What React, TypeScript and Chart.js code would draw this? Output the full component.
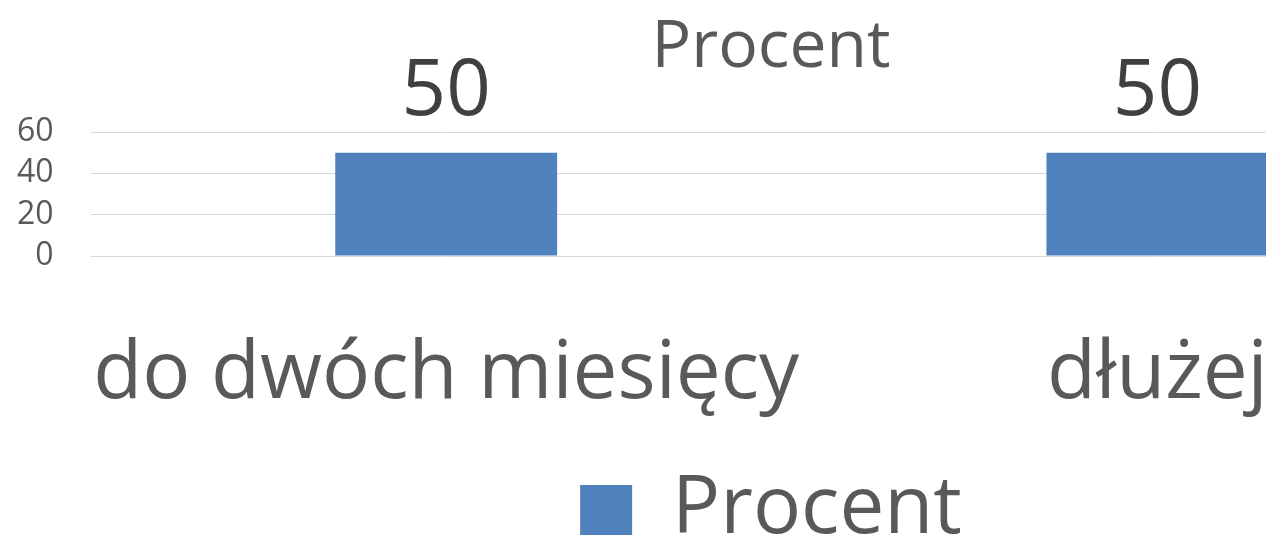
import React, { useEffect, useRef } from "react";
import { Chart, registerables } from "chart.js";

Chart.register(...registerables);

const categories = ["do dwóch miesięcy", "dłużej"];
const seriesName = "Procent";
const values = [50, 50];
const yTickValues = [0, 20, 40, 60];
const chartTitle = "Procent";

const FONT = "'Open Sans', 'Noto Sans', sans-serif";
const TEXT = "#595959";

const dataLabels = {
  id: "dataLabels",
  afterDatasetsDraw(chart: any) {
    const ctx = chart.ctx;
    ctx.save();
    ctx.font = `78px ${FONT}`;
    ctx.fillStyle = "#404040";
    ctx.textAlign = "center";
    ctx.textBaseline = "alphabetic";
    chart.data.datasets.forEach((ds: any, di: number) => {
      const meta = chart.getDatasetMeta(di);
      meta.data.forEach((el: any, i: number) => {
        ctx.fillText(String(ds.data[i]), el.x, el.y - 38);
      });
    });
    ctx.restore();
  },
};

export default function App() {
  const ref = useRef<HTMLCanvasElement | null>(null);
  useEffect(() => {
    if (!ref.current) return;
    const chart = new Chart(ref.current, {
      type: "bar",
      data: {
        labels: categories,
        datasets: [
          {
            label: seriesName,
            data: values,
            backgroundColor: "#4f81bd",
            categoryPercentage: 1,
            barPercentage: 0.312,
          },
        ],
      },
      options: {
        responsive: false,
        animation: false,
        layout: { padding: 0 },
        plugins: {
          title: {
            display: true,
            text: chartTitle,
            color: TEXT,
            font: { family: FONT, size: 66, weight: "normal" },
            padding: { top: 9, bottom: 43.8 },
          },
          legend: {
            display: true,
            position: "bottom",
            labels: {
              color: TEXT,
              font: { family: FONT, size: 80 },
              boxWidth: 52,
              boxHeight: 50,
              padding: 10,
            },
          },
          tooltip: { enabled: false },
        },
        scales: {
          x: {
            grid: { display: false, drawTicks: false },
            border: { display: false },
            ticks: {
              color: TEXT,
              font: { family: FONT, size: 80 },
              padding: 71,
              maxRotation: 0,
              autoSkip: false,
            },
            afterFit: (s: any) => {
              s.height = 204;
            },
          },
          y: {
            min: 0,
            max: 60,
            afterBuildTicks: (s: any) => {
              s.ticks = yTickValues.map((v) => ({ value: v }));
            },
            grid: { color: "#d9d9d9", drawTicks: false, lineWidth: 1 },
            border: { display: false },
            ticks: {
              color: TEXT,
              font: { family: FONT, size: 32, lineHeight: 1 },
              padding: 37,
              autoSkip: false,
            },
            afterFit: (s: any) => {
              s.width = 89;
            },
          },
          rightSpace: {
            type: "linear",
            position: "right",
            display: true,
            grid: { display: false, drawTicks: false },
            border: { display: false },
            ticks: { display: false },
            afterFit: (s: any) => {
              s.width = 29;
            },
          },
        },
      },
      plugins: [dataLabels],
    } as any);
    return () => chart.destroy();
  }, []);

  return (
    <div
      style={{
        position: "fixed",
        left: 0,
        top: 0,
        width: 1266,
        height: 537,
        overflow: "hidden",
        background: "#ffffff",
      }}
    >
      <canvas ref={ref} width={1542} height={560} style={{ display: "block" }} />
    </div>
  );
}
